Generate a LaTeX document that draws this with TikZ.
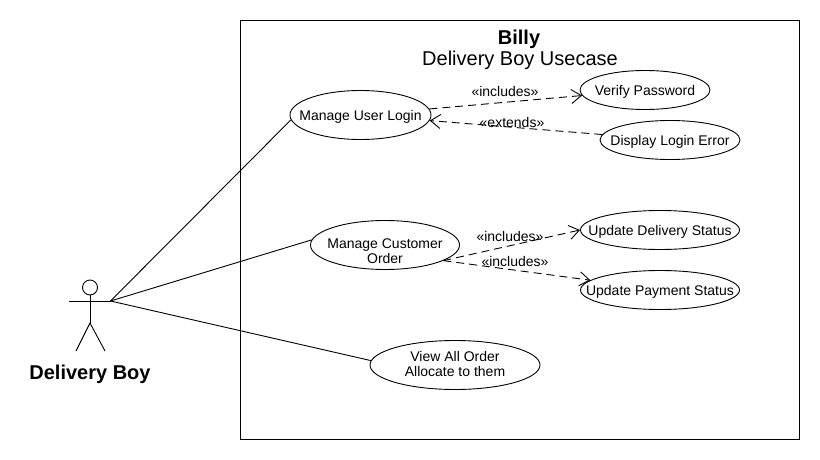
\documentclass[tikz,border=0pt]{standalone}
\usepackage{fontspec}
\setmainfont{Liberation Sans}
\usetikzlibrary{shapes.geometric,arrows.meta}
\tikzset{
    usecase/.style={draw,ellipse,inner sep=0pt,line width=0.9pt},
    casetext/.style={inner sep=0pt,align=center,yshift=-2pt,font=\fontsize{14}{15}\selectfont},
    stereo/.style={inner sep=0pt,font=\fontsize{14}{15}\selectfont},
    depend/.style={dash pattern=on 8pt off 5pt,line width=0.9pt,-{Straight Barb[length=10pt,width=14pt]}},
    assoc/.style={line width=0.9pt},
}
\begin{document}
\begin{tikzpicture}[x=1pt,y=-1pt]
    \useasboundingbox (0,0) rectangle (820,460);
    \node[draw,line width=0.9pt,minimum width=559pt,minimum height=419pt,inner sep=0pt] (system) at (519.5,229.5) {};
    \node[font=\fontsize{20}{22}\selectfont\bfseries,inner sep=0pt] (systemName) at (519,39) {Billy};
    \node[font=\fontsize{20}{22}\selectfont,inner sep=0pt] (systemTitle) at (520,60) {Delivery Boy Usecase};
    \node[usecase,minimum width=141pt,minimum height=49pt,label={[casetext]center:Manage User Login}] (login) at (360.5,115) {};
    \node[usecase,minimum width=130pt,minimum height=39pt,label={[casetext]center:Verify Password}] (verify) at (645,90) {};
    \node[usecase,minimum width=140pt,minimum height=39pt,label={[casetext]center:Display Login Error}] (loginError) at (670,140) {};
    \node[usecase,minimum width=149pt,minimum height=49pt,label={[casetext,yshift=-4pt]center:Manage Customer\\Order}] (order) at (385,245) {};
    \node[usecase,minimum width=159pt,minimum height=39pt,label={[casetext]center:Update Delivery Status}] (delivery) at (660,230) {};
    \node[usecase,minimum width=159pt,minimum height=39pt,label={[casetext]center:Update Payment Status}] (payment) at (660,290) {};
    \node[usecase,minimum width=170pt,minimum height=49pt,label={[casetext,yshift=3pt]center:View All Order\\Allocate to them}] (viewOrder) at (455,365) {};
    \node[stereo] (includesVerify) at (505,91) {«includes»};
    \node[stereo] (extendsError) at (512,122) {«extends»};
    \node[stereo] (includesDelivery) at (510,236) {«includes»};
    \node[stereo] (includesPayment) at (515,261) {«includes»};
    % actor
    \node[draw,circle,line width=0.9pt,minimum size=15pt,inner sep=0pt] (head) at (90,287.5) {};
    \coordinate (waist) at (90,323);
    \coordinate (handLeft) at (69,301);
    \coordinate (hand) at (110.5,301);
    \coordinate (footLeft) at (76,351);
    \coordinate (footRight) at (105,351);
    \node[font=\fontsize{20}{22}\selectfont\bfseries,inner sep=0pt] (actorName) at (90,374) {Delivery Boy};
    \draw[assoc] (head) -- (waist);
    \draw[assoc] (handLeft) -- (hand);
    \draw[assoc] (footLeft) -- (waist) -- (footRight);
    \draw[assoc] (hand) -- (login.184);
    \draw[assoc] (hand) -- (order.176);
    \draw[assoc] (hand) -- (viewOrder.177);
    \draw[depend] (login) -- (verify);
    \draw[depend] (loginError) -- (login);
    \draw[depend] (order.-15) -- (delivery.west);
    \draw[depend] (order.-15) -- (payment.172);
\end{tikzpicture}
\end{document}
